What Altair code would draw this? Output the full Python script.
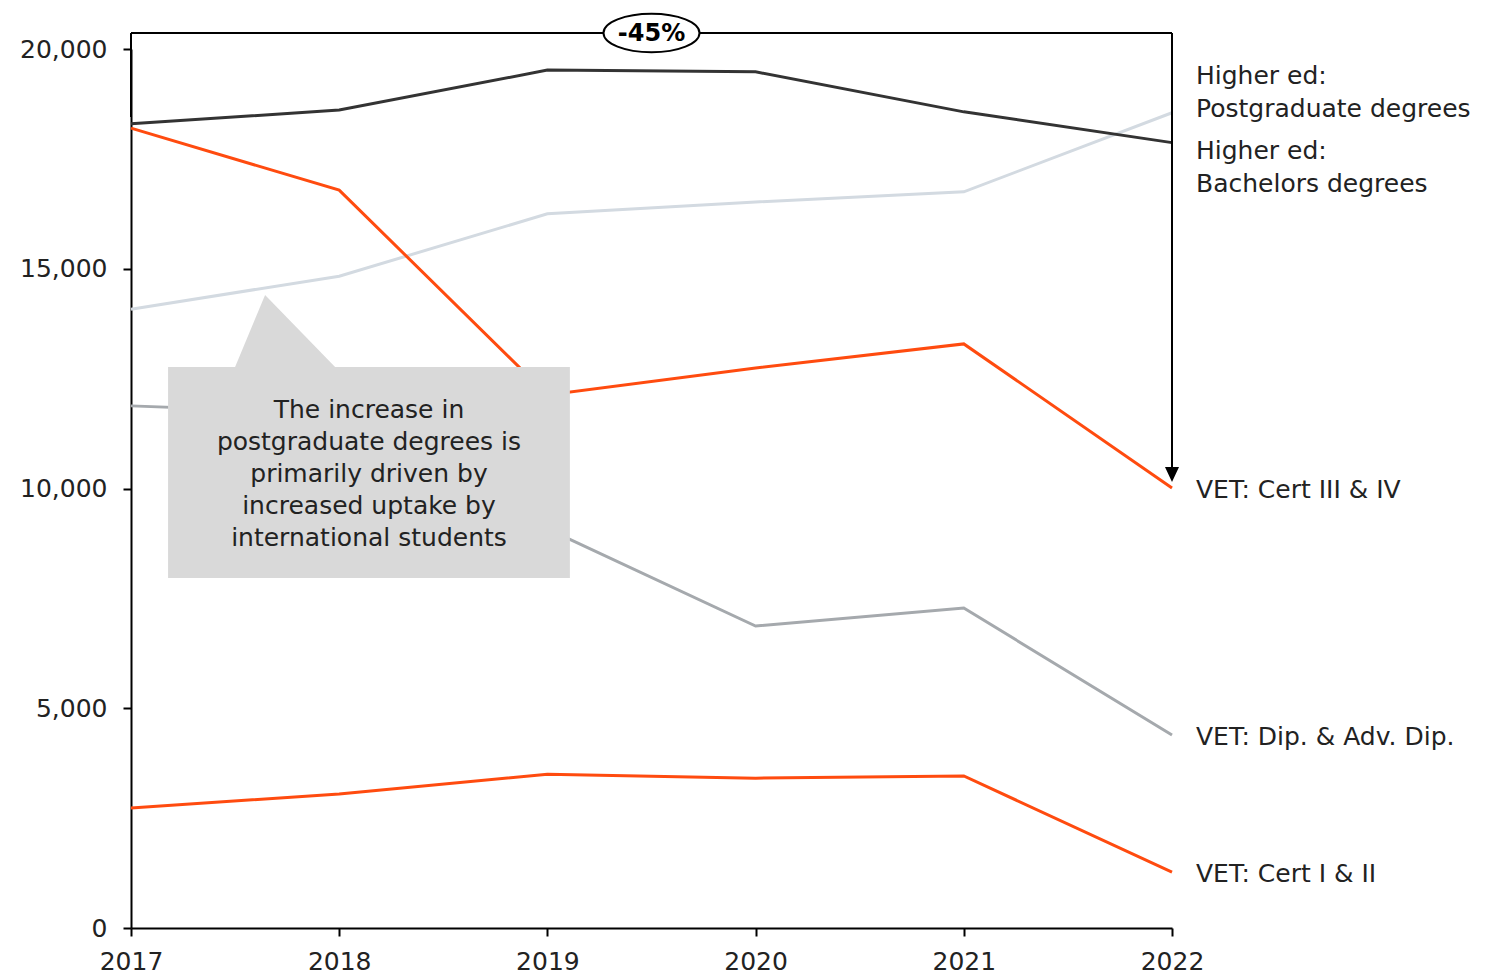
import altair as alt
import pandas as pd

years = [2017, 2018, 2019, 2020, 2021, 2022]
postgrad = [14080, 14830, 16250, 16520, 16750, 18550]
bachelors = [18300, 18610, 19520, 19480, 18570, 17870]
cert_3_4 = [18200, 16790, 12130, 12740, 13290, 10010]
diploma = [11880, 11700, 9080, 6870, 7280, 4390]
cert_1_2 = [2730, 3050, 3500, 3410, 3460, 1270]

series_names = ["Higher ed: Postgraduate degrees", "Higher ed: Bachelors degrees",
                "VET: Cert III & IV", "VET: Dip. & Adv. Dip.", "VET: Cert I & II"]
series_values = [postgrad, bachelors, cert_3_4, diploma, cert_1_2]
series_colors = ["#d3dae1", "#333333", "#ff4b0f", "#a5a9ad", "#ff4b0f"]

y_ticks = [0, 5000, 10000, 15000, 20000]
callout_text = "The increase in\npostgraduate degrees is\nprimarily driven by\nincreased uptake by\ninternational students"
change_label = "-45%"

FONT = "DejaVu Sans"
FS = 25

rows = []
for name, vals in zip(series_names, series_values):
    for yr, v in zip(years, vals):
        rows.append({"series": name, "year": yr, "value": v})
df = pd.DataFrame(rows)

xs = alt.Scale(domain=[2017, 2022], nice=False, zero=False)
ys = alt.Scale(domain=[0, 20000], nice=False)

base = alt.Chart(df)
lines = base.mark_line(strokeWidth=3).encode(
    x=alt.X("year:Q", scale=xs,
            axis=alt.Axis(values=years, format="d", title=None, grid=False,
                          domainColor="black", domainWidth=2, tickColor="black",
                          tickWidth=2, tickSize=8, labelFont=FONT, labelFontSize=FS,
                          labelColor="#222222", labelPadding=13, labelFlush=False)),
    y=alt.Y("value:Q", scale=ys,
            axis=alt.Axis(values=y_ticks, format=",d", title=None, grid=False,
                          domainColor="black", domainWidth=2, tickColor="black",
                          tickWidth=2, tickSize=8, labelFont=FONT, labelFontSize=FS,
                          labelColor="#222222", labelPadding=16)),
    color=alt.Color("series:N", scale=alt.Scale(domain=series_names, range=series_colors),
                    legend=None),
    detail="series:N",
    order="year:Q",
)

# end labels
end_df = pd.DataFrame({
    "series": series_names,
    "year": [years[-1]] * len(series_names),
    "value": [v[-1] for v in series_values],
    "label": ["Higher ed:\nPostgraduate  degrees", "Higher ed:\nBachelors degrees",
              "VET: Cert III & IV", "VET: Dip. & Adv. Dip.", "VET: Cert I & II"],
})

def end_label(names, dy):
    return alt.Chart(end_df[end_df.series.isin(names)]).mark_text(
        align="left", baseline="middle", dx=24, dy=dy, font=FONT, fontSize=FS,
        lineBreak="\n", lineHeight=33, color="#222222"
    ).encode(x=alt.X("year:Q", scale=xs), y=alt.Y("value:Q", scale=ys), text="label:N")

lab_pg = end_label([series_names[0]], -37)
lab_ba = end_label([series_names[1]], 8)
lab_vet = end_label(series_names[2:], 2)

# callout box
box_df = pd.DataFrame({"x": [2017.178], "x2": [2019.108], "y": [12765], "y2": [7964]})
box = alt.Chart(box_df).mark_rect(color="#d9d9d9").encode(
    x=alt.X("x:Q", scale=xs), x2="x2:Q", y=alt.Y("y:Q", scale=ys), y2="y2:Q")
ptr_df = pd.DataFrame({"x": [2017.644], "y": [14403]})
pointer = alt.Chart(ptr_df).mark_point(
    shape="M-30,72L0,0L70,72Z", size=4, filled=True, fill="#d9d9d9",
    strokeWidth=0, opacity=1
).encode(x=alt.X("x:Q", scale=xs), y=alt.Y("y:Q", scale=ys))
ctext_df = pd.DataFrame({"x": [2018.143], "y": [11790], "t": [callout_text]})
ctext = alt.Chart(ctext_df).mark_text(
    align="center", baseline="middle", font=FONT, fontSize=FS, lineBreak="\n",
    lineHeight=32, color="#222222"
).encode(x=alt.X("x:Q", scale=xs), y=alt.Y("y:Q", scale=ys), text="t:N")

# bracket
top_val = 20364
brk_h = pd.DataFrame({"x": [2017], "x2": [2022], "y": [top_val]})
h_rule = alt.Chart(brk_h).mark_rule(color="black", strokeWidth=2).encode(
    x=alt.X("x:Q", scale=xs), x2="x2:Q", y=alt.Y("y:Q", scale=ys))
brk_v = pd.DataFrame({"x": [2017, 2022], "y": [top_val, top_val], "y2": [18450, 10480]})
v_rule = alt.Chart(brk_v).mark_rule(color="black", strokeWidth=2).encode(
    x=alt.X("x:Q", scale=xs), y=alt.Y("y:Q", scale=ys), y2="y2:Q")
arrow_df = pd.DataFrame({"x": [2022], "y": [10148]})
arrow = alt.Chart(arrow_df).mark_point(
    shape="M-7,-15L7,-15L0,0Z", size=4, filled=True, fill="black", strokeWidth=0, opacity=1
).encode(x=alt.X("x:Q", scale=xs), y=alt.Y("y:Q", scale=ys))
ell_df = pd.DataFrame({"x": [2019.5], "y": [top_val], "t": [change_label]})
ellipse = alt.Chart(ell_df).mark_point(
    shape="M-1,0A1,0.4,0,1,1,1,0A1,0.4,0,1,1,-1,0Z", size=9216, filled=False,
    fill="white", fillOpacity=1, stroke="black", strokeWidth=2, opacity=1
).encode(x=alt.X("x:Q", scale=xs), y=alt.Y("y:Q", scale=ys))
ell_text = alt.Chart(ell_df).mark_text(
    align="center", baseline="middle", font=FONT, fontSize=24, fontWeight="bold",
    color="black", dy=1
).encode(x=alt.X("x:Q", scale=xs), y=alt.Y("y:Q", scale=ys), text="t:N")

chart = alt.layer(
    lines, box, pointer, ctext, lab_pg, lab_ba, lab_vet,
    h_rule, v_rule, arrow, ellipse, ell_text
).properties(
    width=1041, height=879,
    background="white",
    autosize=alt.AutoSizeParams(type="none"),
    padding={"left": 131, "top": 49, "right": 325, "bottom": 48},
).configure_view(strokeWidth=0, stroke=None)

chart.save("out.html", embed_options={"renderer": "svg", "actions": False})
